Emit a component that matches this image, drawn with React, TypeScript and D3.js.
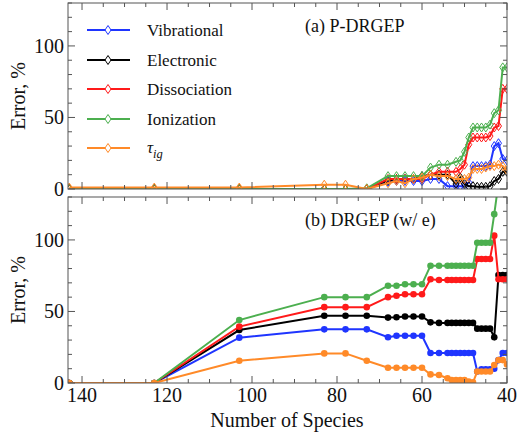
import React from "react";
import * as d3 from "d3";

const seriesNames = ["Vibrational", "Electronic", "Dissociation", "Ionization", "tau"];
const colors = ["#1f35ff", "#000000", "#ff1a1a", "#4caf4f", "#ff8a28"];

// Panel (a) P-DRGEP
const xA = [143, 123, 103, 83, 78, 73, 68, 66, 64, 62, 60, 58, 56, 54, 52, 51, 50, 49, 48, 47, 46, 45, 44, 43, 42, 41, 40];
const vibA = [0, 0, 0, 0, 0, 0, 5, 5.6, 5.6, 5.6, 5.6, 7, 7, 2, 2, 2, 2, 4.5, 16, 16, 16, 16, 17, 30, 32, 21, 20];
const eleA = [0, 0, 0, 0, 0, 0, 6, 7, 7, 7, 9, 10, 10, 10, 3.5, 8, 3.5, 2, 2, 1.5, 1.5, 1.5, 2, 5.6, 7, 12, 12];
const disA = [0, 0, 0, 0, 0, 0, 7, 7, 7, 7, 7, 10, 12, 12, 12, 14, 17, 31, 36, 36, 36, 36, 37, 43, 44, 70, 70];
const ionA = [0, 0, 0, 0, 0, 0.5, 9, 9, 9, 9, 9, 15, 17, 17, 19, 20, 26, 36, 43, 43, 43, 43, 45, 53, 55, 85, 85];
const tauA = [1, 1, 1, 3, 3, 0, 4, 5.6, 4, 7, 8, 10, 9, 9, 7, 7, 7, 8, 14, 14, 14, 15, 16, 16, 17, 16, 13];

// Panel (b) DRGEP (w/ e)
const xB = [143, 123, 103, 83, 78, 73, 68, 66, 64, 62, 60, 58, 56, 54, 53, 52, 51, 50, 49, 48, 47, 46, 45, 44, 43, 42, 41, 40];
const vibB = [0, 0, 31.7, 37.5, 37.5, 37.5, 32, 33, 33, 33, 33, 21, 21, 21, 21, 21, 21, 21, 21, 21, 8, 9.5, 9.5, 9.5, 10, 16, 21, 21];
const eleB = [0, 0, 37, 47, 47, 47, 45.7, 46, 46.5, 46.5, 46.5, 42.4, 42, 42, 42, 42, 42, 42, 42, 42, 38, 38, 38, 38, 32, 75.5, 75.5, 75.5];
const disB = [0, 0, 39.4, 53, 53, 53, 60, 61, 62, 62, 62, 72.5, 72, 72, 72, 72, 72, 72, 72, 72, 86.7, 86.7, 86.7, 86.7, 103, 72.5, 72.5, 72.5];
const ionB = [0, 0, 44, 60, 60, 60, 68, 68, 69, 69, 69, 82, 82, 82, 82, 82, 82, 82, 82, 82, 98, 98, 98, 98, 118, 140, 140, 140];
const tauB = [0, 0, 15.6, 20.7, 20.7, 15.6, 10.7, 10.7, 10.7, 10.7, 10.7, 6, 5.6, 3.3, 2, 2, 2, 2, 1, 0.5, 8, 8, 8, 8, 12.6, 16, 16, 13];

const xTicks = [140, 120, 100, 80, 60, 40];
const yTicks = [0, 50, 100];

const L = 68, R = 507;
const panelA = { top: 3, bottom: 189 };
const panelB = { top: 197, bottom: 383 };

const FONT = "Liberation Serif, Times New Roman, Times, DejaVu Serif, Noto Serif, serif";
const tStyle = { fontFamily: FONT } as React.CSSProperties;

const x = d3.scaleLinear().domain([143.3, 40]).range([L, R]);

function Panel({ top, bottom, xs, data, markers, id, showXLabels }: any) {
  const y = d3.scaleLinear().domain([0, 130]).range([bottom, top]);
  const line = (vals: number[]) =>
    d3.line<number>().x((_, i) => x(xs[i])).y((v) => y(v))(vals) as string;
  const xMinor = d3.range(40, 145, 5);
  const yMinor = d3.range(0, 131, 10);
  const diamond = "M0,-4.5L3,0L0,4.5L-3,0Z";
  return (
    <g>
      <defs>
        <clipPath id={id}>
          <rect x={L} y={top} width={R - L} height={bottom - top} />
        </clipPath>
      </defs>
      <g clipPath={`url(#${id})`}>
        {data.map((vals: number[], si: number) => (
          <g key={si}>
            <path d={line(vals)} fill="none" stroke={colors[si]} strokeWidth={2} />
            {vals.map((v, i) =>
              markers === "diamond" ? (
                <path key={i} d={diamond} transform={`translate(${x(xs[i])},${y(v)})`} fill="none" stroke={colors[si]} strokeWidth={1} />
              ) : (
                <circle key={i} cx={x(xs[i])} cy={y(v)} r={3.3} fill={colors[si]} />
              )
            )}
          </g>
        ))}
      </g>
      <rect x={L} y={top} width={R - L} height={bottom - top} fill="none" stroke="#555" strokeWidth={1} />
      {xMinor.map((t) => {
        const major = t % 20 === 0;
        const len = major ? 7 : 4;
        return (
          <g key={t} stroke="#555" strokeWidth={1}>
            <line x1={x(t)} x2={x(t)} y1={bottom} y2={bottom - len} />
            <line x1={x(t)} x2={x(t)} y1={top} y2={top + len} />
          </g>
        );
      })}
      {yMinor.map((t) => {
        const major = t % 50 === 0;
        const len = major ? 7 : 4;
        return (
          <g key={t} stroke="#555" strokeWidth={1}>
            <line x1={L} x2={L + len} y1={y(t)} y2={y(t)} />
            <line x1={R} x2={R - len} y1={y(t)} y2={y(t)} />
          </g>
        );
      })}
      {yTicks.map((t) => (
        <text key={t} x={L - 4} y={y(t) + 7} textAnchor="end" fontSize={20} style={tStyle} fill="#111">
          {t}
        </text>
      ))}
      {showXLabels &&
        xTicks.map((t) => (
          <text key={t} x={x(t)} y={bottom + 19} textAnchor="middle" fontSize={20} style={tStyle} fill="#111">
            {t}
          </text>
        ))}
      <text
        transform={`translate(25,${(top + bottom) / 2}) rotate(-90)`}
        textAnchor="middle"
        fontSize={20}
        style={tStyle}
        fill="#111"
      >
        Error, %
      </text>
    </g>
  );
}

export default function App() {
  const legendY = [30, 60, 89, 119, 148];
  const legendLabels = ["Vibrational", "Electronic", "Dissociation", "Ionization"];
  return (
    <svg width={518} height={435} style={{ position: "absolute", left: 0, top: 0, background: "#fff", fontFamily: FONT }}>
      <rect width={518} height={435} fill="#fff" />
      <Panel top={panelA.top} bottom={panelA.bottom} xs={xA} data={[vibA, eleA, disA, ionA, tauA]} markers="diamond" id="clipA" showXLabels={false} />
      <Panel top={panelB.top} bottom={panelB.bottom} xs={xB} data={[vibB, eleB, disB, ionB, tauB]} markers="circle" id="clipB" showXLabels={true} />
      {seriesNames.map((n, i) => (
        <g key={n}>
          <line x1={87} x2={130} y1={legendY[i]} y2={legendY[i]} stroke={colors[i]} strokeWidth={2} />
          <path d="M0,-4.5L3,0L0,4.5L-3,0Z" transform={`translate(108,${legendY[i]})`} fill="#fff" stroke={colors[i]} strokeWidth={1} />
          {i < 4 ? (
            <text x={147} y={legendY[i] + 6} fontSize={17} style={tStyle} fill="#111">
              {legendLabels[i]}
            </text>
          ) : (
            <text x={147} y={legendY[i] + 5} fontSize={17} style={tStyle} fill="#111" fontStyle="italic">
              τ<tspan fontSize={12.5} dy={5}>ig</tspan>
            </text>
          )}
        </g>
      ))}
      <text x={305} y={32} fontSize={18} style={tStyle} fill="#111">(a) P-DRGEP</text>
      <text x={305} y={226} fontSize={18} style={tStyle} fill="#111">(b) DRGEP (w/ e)</text>
      <text x={287} y={427} textAnchor="middle" fontSize={20} style={tStyle} fill="#111">Number of Species</text>
    </svg>
  );
}
